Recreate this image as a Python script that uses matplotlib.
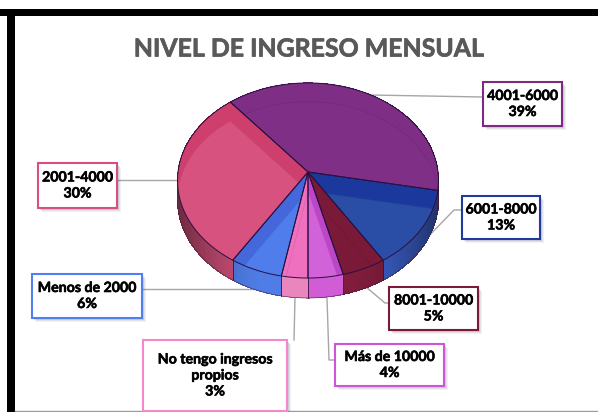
import numpy as np
import matplotlib
matplotlib.use('Agg')
import matplotlib.pyplot as plt
import matplotlib.patheffects as pe
from matplotlib.colors import to_rgb
from matplotlib.patches import Polygon, Rectangle

# chart data, clockwise from the back of the pie
categories = ['4001-6000', '6001-8000', '8001-10000', 'Más de 10000',
              'No tengo ingresos\npropios', 'Menos de 2000', '2001-4000']
values = [39, 13, 5, 4, 3, 6, 30]

# colours
top_dark = ['#7E2E84', '#1B389C', '#7A1A38', '#BC45C8', '#EE70BE', '#4468DC', '#CF3F6E']
top_light = ['#802F86', '#2A4EA6', '#7A1A38', '#D262D8', '#EE70BE', '#4F7DEC', '#D8527F']
side = ['#7E2E84', '#3A5FC8', '#801C3C', '#D05CD6', '#E986BE', '#4F7CE6', '#D0507A']
edge_col = ['#7B2C82', '#1F3C9C', '#7A1A38', '#CC55D8', '#F588CC', '#4F7FF0', '#D84F80']

# label boxes: left, top, right, bottom in pixels
boxes = [(483, 82, 562, 126), (462, 196, 540, 239), (389, 287, 478, 330),
         (335, 344, 444, 386), (143, 340, 287, 411), (32, 274, 142, 318),
         (38, 163, 117, 208)]
leaders = [[(370, 95), (483, 97)],
           [(420, 245), (454, 210), (462, 210)],
           [(366, 287), (385, 303), (389, 303)],
           [(327, 298), (329, 360), (335, 360)],
           [(295, 298), (294, 340)],
           [(262, 289), (142, 289)],
           [(179, 180), (117, 180)]]

plt.rcParams['font.family'] = ['Lato', 'DejaVu Sans']

fig = plt.figure(figsize=(5.98, 4.12), dpi=100)
ax = fig.add_axes([0, 0, 1, 1])
ax.set_xlim(0, 598)
ax.set_ylim(412, 0)
ax.axis('off')

# frame
ax.add_patch(Rectangle((0, 9), 598, 7, fc='black', ec='none'))
ax.add_patch(Rectangle((7, 9), 8, 403, fc='black', ec='none'))
ax.plot([15, 598], [410.5, 410.5], color='#9a9a9a', lw=1)

ax.text(309, 49, 'NIVEL DE INGRESO MENSUAL', color='#595959', fontsize=17.9,
        fontweight='bold', ha='center', va='center',
        path_effects=[pe.withStroke(linewidth=0.5, foreground='#595959')])

cx, cy = 308, 172
rx, ry, persp = 130, 96.8, 0.087
depth = 20
shift = 19
total = sum(values)
start_deg = 129.6


def rim(p):
    t = np.radians(start_deg - np.asarray(p) * 360 / total)
    k = 1 + persp * np.sin(t)
    return cx + rx * np.cos(t) / k, cy - ry * np.sin(t) / k


def shade(col, f):
    return tuple(c * f for c in to_rgb(col))


cum = np.concatenate([[0], np.cumsum(values)])

# wall, drawn in thin strips so it darkens towards the sides
for i in range(len(values)):
    ps = np.linspace(cum[i], cum[i + 1], max(2, values[i] * 4 + 1))
    for a, b in zip(ps[:-1], ps[1:]):
        xa, ya = rim(a)
        xb, yb = rim(b)
        mid = abs((xa + xb) / 2 - cx) / rx
        f = 1 - 0.45 * max(0, mid - 0.35) ** 1.5 * 2
        ax.fill([xa, xb, xb, xa], [ya, yb, yb + depth, ya + depth],
                color=shade(side[i], f), lw=0, antialiased=False, zorder=2)
for p in cum[1:]:
    x, y = rim(p)
    if y > cy + 5:
        ax.plot([x, x], [y, y + depth], color='#3a1030', lw=0.6, zorder=3)

# top surface
for i in range(len(values)):
    ps = np.linspace(cum[i], cum[i + 1], values[i] * 4 + 2)
    xs, ys = rim(ps)
    pts = np.vstack([[cx, cy], np.column_stack([xs, ys])])
    wedge = Polygon(pts, closed=True, fc=top_dark[i], ec='none', zorder=4)
    ax.add_patch(wedge)
    inner = Polygon(pts + [0, shift], closed=True, fc=top_light[i],
                    ec=shade(top_light[i], 0.88), lw=0.4, zorder=5)
    ax.add_patch(inner)
    inner.set_clip_path(wedge)
    ax.add_patch(Polygon(pts, closed=True, fc='none', ec='#2a1040', lw=0.7, zorder=6))

# outer lower rim of the wall
xs, ys = rim(np.linspace(0, total, 300))
front = ys + depth > cy + 8
ax.plot(xs[front], (ys + depth)[front], color='#4a2040', lw=0.4, zorder=3)

# leader lines
for line in leaders:
    ax.plot(*zip(*line), color='#a6a6a6', lw=1, zorder=1)

# labels
for name, val, box, col in zip(categories, values, boxes, edge_col):
    x0, y0, x1, y1 = box
    for off, al in [(4, 0.08), (3, 0.10), (2, 0.14)]:
        ax.add_patch(Rectangle((x0 + off, y0 + off), x1 - x0, y1 - y0, fc='#555577',
                               ec='none', alpha=al, zorder=7))
    ax.add_patch(Rectangle((x0, y0), x1 - x0, y1 - y0, fc='white', ec=col, lw=1.5, zorder=8))
    ax.text((x0 + x1) / 2, (y0 + y1) / 2, f'{name}\n{val}%', color='black', fontsize=10.2,
            fontweight='bold', ha='center', va='center', linespacing=1.4, zorder=9,
            path_effects=[pe.withStroke(linewidth=0.4, foreground='black')])

fig.savefig('out.png', dpi=100)
